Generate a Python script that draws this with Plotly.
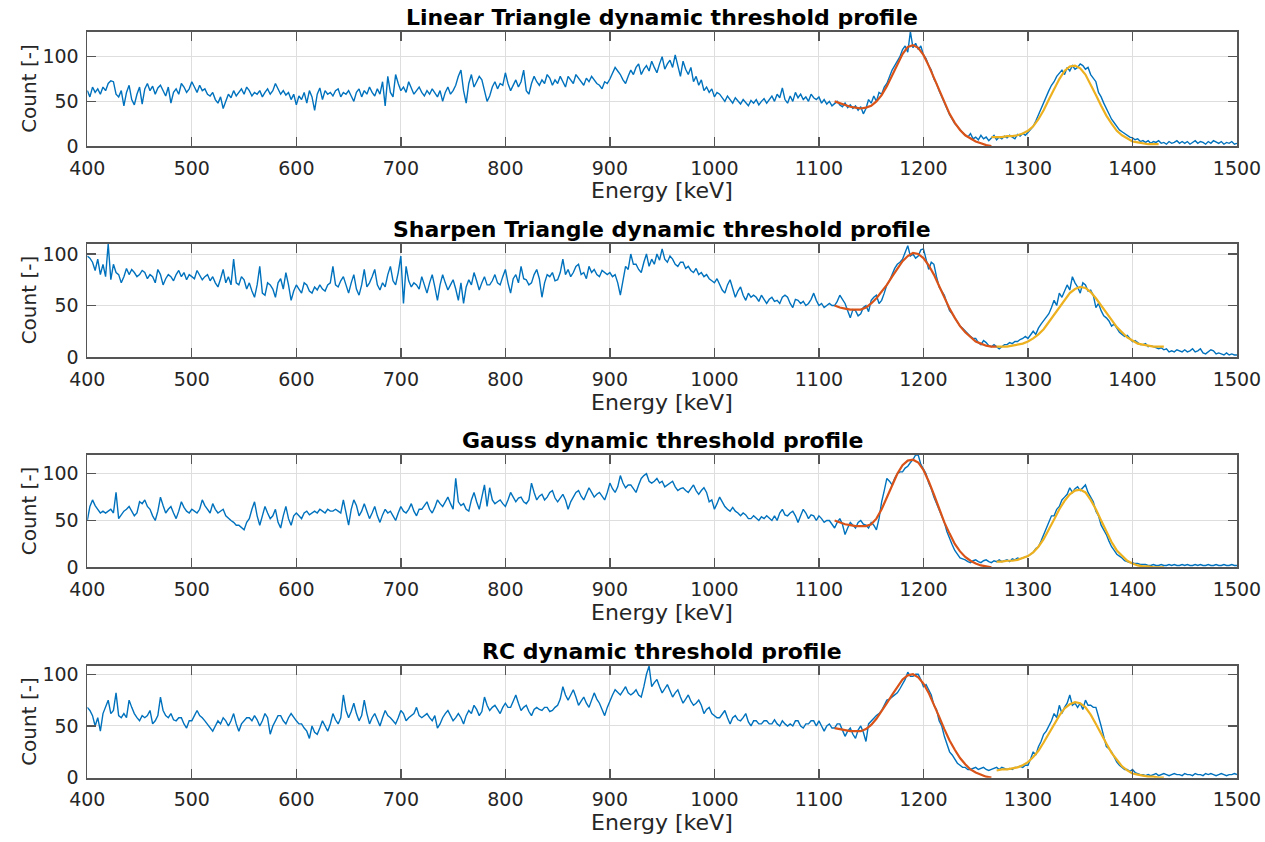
import plotly.graph_objects as go

# ---------------- data ----------------
titles = ["Linear Triangle dynamic threshold profile",
          "Sharpen Triangle dynamic threshold profile",
          "Gauss dynamic threshold profile",
          "RC dynamic threshold profile"]
x_label = "Energy [keV]"
y_label = "Count [-]"
x_ticks = [400, 500, 600, 700, 800, 900, 1000, 1100, 1200, 1300, 1400, 1500]
y_ticks = [0, 50, 100]
y_max = [128, 110, 120, 108]

# spectra: one row = 50 keV, 2.5 keV bins, row r starts at 400 + 50*r
row_width_kev = 50
bin_kev = 2.5
first_energy = 400

linear_rows = [
    [62, 55, 66, 60, 64, 58, 66, 62, 70, 73, 72, 58, 55, 62, 45, 60, 68, 52, 46, 58],
    [66, 47, 64, 70, 62, 67, 58, 65, 68, 62, 56, 66, 48, 60, 64, 58, 70, 66, 60, 64],
    [72, 66, 60, 68, 62, 64, 58, 56, 60, 52, 48, 55, 42, 50, 58, 54, 62, 56, 60, 64],
    [58, 66, 62, 56, 60, 58, 62, 55, 60, 64, 58, 62, 70, 64, 58, 62, 57, 60, 52, 58],
    [46, 56, 52, 60, 48, 62, 55, 40, 58, 65, 52, 62, 58, 60, 56, 62, 64, 55, 60, 58],
    [62, 56, 50, 60, 64, 55, 62, 58, 66, 60, 56, 64, 58, 72, 45, 78, 60, 55, 80, 70],
    [62, 66, 60, 72, 64, 58, 62, 66, 60, 56, 62, 58, 64, 60, 55, 62, 50, 60, 66, 58],
    [62, 68, 78, 85, 62, 48, 70, 80, 66, 72, 78, 74, 62, 50, 56, 66, 72, 64, 70, 68],
    [82, 70, 62, 68, 74, 66, 72, 85, 62, 58, 70, 78, 72, 68, 74, 70, 80, 76, 68, 74],
    [70, 78, 72, 66, 78, 74, 70, 80, 76, 72, 68, 76, 72, 78, 74, 70, 68, 64, 72, 70],
    [75, 82, 88, 84, 80, 74, 70, 78, 85, 80, 88, 92, 80, 86, 90, 84, 95, 88, 82, 92],
    [100, 86, 92, 96, 88, 102, 90, 78, 95, 86, 80, 88, 72, 78, 68, 74, 62, 66, 60, 64],
    [55, 60, 58, 54, 50, 56, 52, 48, 54, 50, 47, 52, 49, 45, 51, 48, 52, 46, 50, 53],
    [48, 52, 56, 50, 58, 54, 65, 52, 48, 56, 50, 60, 54, 58, 52, 55, 50, 58, 54, 52],
    [55, 48, 52, 47, 50, 45, 48, 50, 46, 44, 48, 43, 46, 42, 45, 40, 44, 36, 42, 52],
    [48, 56, 50, 60, 58, 66, 70, 78, 85, 90, 95, 100, 108, 112, 105, 128, 110, 115, 108, 112],
    [102, 98, 90, 85, 75, 70, 62, 55, 48, 40, 35, 30, 25, 22, 18, 15, 12, 10, 14, 8],
    [10, 7, 12, 8, 10, 6, 9, 12, 7, 10, 8, 11, 9, 12, 10, 8, 13, 11, 14, 12],
    [15, 18, 22, 28, 35, 42, 50, 55, 62, 68, 72, 78, 82, 85, 80, 88, 84, 90, 86, 88],
    [92, 90, 86, 88, 80, 76, 72, 60, 55, 48, 42, 35, 30, 26, 22, 18, 16, 14, 12, 10],
    [9, 7, 8, 5, 6, 4, 6, 3, 5, 4, 6, 3, 4, 2, 5, 3, 4, 6, 3, 5],
    [3, 5, 2, 4, 6, 3, 5, 4, 2, 5, 3, 6, 4, 3, 5, 2, 4, 3, 5, 2],
    [3],
]

sharpen_rows = [
    [98, 96, 92, 84, 95, 80, 90, 78, 110, 75, 90, 82, 80, 72, 78, 86, 80, 85, 82, 78],
    [80, 84, 82, 76, 80, 78, 72, 85, 80, 70, 76, 80, 78, 74, 80, 84, 78, 82, 75, 80],
    [78, 76, 84, 80, 75, 78, 80, 74, 78, 72, 68, 76, 85, 72, 78, 70, 95, 72, 70, 78],
    [75, 66, 72, 64, 58, 70, 88, 62, 60, 72, 70, 66, 58, 72, 76, 66, 82, 70, 55, 64],
    [70, 66, 62, 72, 70, 64, 62, 68, 65, 70, 66, 64, 70, 72, 88, 70, 68, 74, 78, 70],
    [62, 72, 80, 66, 60, 70, 85, 68, 72, 78, 85, 70, 65, 72, 68, 80, 88, 74, 70, 82],
    [98, 52, 88, 74, 68, 72, 70, 66, 78, 70, 62, 72, 80, 68, 55, 70, 80, 72, 65, 70],
    [75, 66, 55, 72, 52, 68, 75, 70, 82, 74, 65, 72, 78, 70, 70, 74, 80, 72, 70, 78],
    [85, 72, 62, 76, 80, 72, 88, 76, 75, 70, 72, 80, 85, 76, 58, 72, 80, 78, 82, 74],
    [75, 82, 95, 80, 85, 78, 82, 88, 90, 80, 82, 76, 88, 82, 85, 80, 78, 84, 82, 80],
    [82, 78, 80, 72, 60, 75, 88, 85, 100, 90, 90, 85, 82, 92, 100, 88, 95, 90, 100, 94],
    [105, 95, 92, 98, 95, 90, 88, 92, 92, 86, 88, 84, 82, 86, 80, 82, 78, 80, 76, 74],
    [72, 76, 70, 65, 62, 70, 75, 66, 58, 64, 68, 60, 55, 62, 58, 60, 58, 54, 60, 56],
    [52, 56, 58, 54, 55, 52, 58, 60, 58, 52, 48, 56, 55, 52, 54, 50, 52, 56, 62, 55],
    [50, 52, 48, 50, 52, 50, 50, 54, 60, 56, 52, 45, 38, 46, 45, 40, 42, 48, 50, 44],
    [55, 58, 60, 52, 55, 62, 70, 74, 80, 86, 90, 92, 95, 102, 108, 98, 100, 96, 98, 104],
    [105, 95, 85, 92, 90, 78, 68, 64, 60, 52, 45, 42, 38, 34, 30, 28, 25, 22, 20, 18],
    [18, 14, 12, 16, 14, 11, 10, 12, 10, 8, 10, 12, 12, 14, 13, 15, 15, 17, 18, 20],
    [18, 22, 25, 22, 28, 32, 35, 38, 42, 48, 55, 50, 62, 58, 65, 70, 65, 78, 72, 68],
    [62, 72, 70, 64, 65, 60, 48, 52, 45, 40, 38, 35, 30, 32, 28, 24, 22, 20, 21, 18],
    [15, 16, 14, 12, 12, 13, 10, 11, 10, 9, 8, 9, 7, 8, 5, 6, 5, 7, 6, 5],
    [7, 5, 6, 8, 5, 6, 8, 4, 3, 5, 7, 6, 3, 4, 3, 2, 4, 2, 3, 2],
    [2],
]

gauss_rows = [
    [50, 65, 72, 66, 62, 58, 60, 58, 60, 62, 58, 80, 52, 56, 60, 62, 65, 60, 55, 58],
    [70, 68, 72, 65, 62, 55, 50, 60, 75, 66, 58, 62, 65, 58, 52, 60, 70, 64, 60, 58],
    [62, 60, 58, 62, 72, 66, 62, 58, 68, 62, 58, 60, 62, 55, 52, 50, 48, 45, 45, 42],
    [40, 48, 52, 62, 70, 55, 45, 55, 65, 58, 52, 55, 62, 48, 42, 55, 65, 52, 45, 55],
    [58, 55, 52, 58, 60, 56, 58, 60, 58, 62, 60, 58, 62, 60, 60, 62, 60, 58, 72, 60],
    [45, 62, 72, 66, 55, 60, 68, 60, 52, 58, 65, 55, 48, 56, 62, 58, 60, 55, 50, 58],
    [65, 60, 58, 62, 68, 60, 55, 62, 62, 66, 70, 62, 58, 64, 72, 68, 65, 70, 75, 68],
    [62, 95, 70, 66, 68, 62, 60, 72, 80, 70, 62, 75, 88, 65, 85, 72, 68, 70, 72, 68],
    [65, 72, 80, 75, 70, 74, 75, 70, 68, 72, 90, 80, 72, 76, 78, 72, 75, 80, 82, 74],
    [70, 74, 78, 72, 62, 70, 75, 80, 82, 76, 72, 78, 85, 80, 75, 78, 80, 76, 72, 80],
    [90, 84, 80, 86, 98, 90, 85, 88, 88, 84, 80, 88, 95, 98, 100, 92, 90, 92, 95, 90],
    [92, 86, 88, 90, 92, 86, 82, 84, 85, 82, 80, 84, 88, 82, 78, 82, 85, 80, 70, 72],
    [62, 68, 75, 70, 65, 62, 60, 64, 60, 58, 55, 58, 56, 52, 52, 55, 52, 50, 54, 52],
    [55, 52, 50, 55, 50, 58, 62, 56, 55, 58, 60, 55, 48, 55, 62, 58, 52, 56, 55, 50],
    [55, 52, 48, 50, 50, 46, 42, 48, 52, 46, 35, 42, 48, 45, 42, 48, 50, 46, 45, 42],
    [48, 45, 40, 52, 70, 82, 95, 92, 88, 95, 100, 102, 102, 106, 108, 112, 115, 120, 120, 110],
    [105, 100, 90, 84, 75, 68, 60, 55, 48, 38, 30, 24, 18, 14, 10, 9, 8, 6, 5, 7],
    [8, 6, 5, 7, 8, 6, 5, 7, 6, 8, 6, 7, 8, 6, 9, 8, 10, 9, 10, 11],
    [12, 14, 16, 20, 22, 28, 35, 40, 48, 55, 55, 62, 65, 72, 75, 78, 85, 80, 84, 86],
    [82, 85, 88, 80, 75, 70, 60, 55, 45, 40, 35, 28, 22, 18, 14, 12, 10, 7, 6, 5],
    [5, 4, 4, 3, 3, 3, 2, 2, 3, 2, 2, 3, 2, 2, 3, 2, 3, 2, 2, 3],
    [2, 3, 2, 2, 3, 2, 3, 2, 2, 3, 2, 2, 3, 2, 2, 3, 2, 2, 3, 2],
    [2],
]

rc_rows = [
    [68, 65, 60, 50, 58, 45, 62, 68, 75, 62, 65, 82, 60, 58, 62, 58, 75, 68, 62, 58],
    [55, 60, 58, 60, 65, 52, 55, 60, 78, 65, 60, 58, 62, 56, 55, 58, 58, 52, 48, 55],
    [55, 60, 65, 60, 58, 55, 52, 48, 45, 50, 55, 52, 58, 55, 50, 55, 62, 52, 45, 52],
    [55, 58, 58, 55, 60, 56, 50, 55, 62, 58, 42, 50, 55, 60, 60, 55, 52, 58, 62, 58],
    [55, 52, 52, 48, 45, 38, 50, 44, 42, 48, 55, 50, 45, 52, 62, 56, 52, 58, 80, 65],
    [58, 64, 72, 62, 55, 60, 75, 62, 52, 58, 62, 56, 50, 58, 65, 60, 58, 55, 52, 58],
    [65, 62, 55, 58, 60, 62, 68, 60, 58, 60, 62, 58, 55, 60, 48, 52, 58, 62, 65, 60],
    [55, 58, 62, 58, 52, 60, 65, 62, 70, 66, 60, 64, 78, 70, 65, 68, 70, 66, 62, 68],
    [72, 68, 68, 74, 80, 72, 65, 68, 70, 64, 60, 66, 68, 66, 65, 68, 68, 64, 65, 68],
    [70, 76, 88, 80, 75, 80, 85, 78, 70, 74, 78, 72, 68, 75, 82, 76, 72, 66, 60, 68],
    [75, 80, 85, 82, 80, 84, 88, 82, 80, 82, 85, 80, 78, 88, 100, 108, 88, 92, 95, 88],
    [82, 86, 90, 84, 78, 82, 85, 78, 72, 76, 80, 74, 70, 72, 75, 70, 62, 66, 68, 62],
    [60, 58, 58, 62, 65, 58, 52, 58, 60, 56, 55, 58, 62, 54, 50, 55, 55, 52, 52, 55],
    [55, 52, 52, 56, 52, 50, 55, 52, 50, 52, 50, 55, 55, 50, 48, 52, 52, 55, 55, 50],
    [55, 50, 45, 50, 52, 48, 48, 52, 52, 46, 40, 45, 48, 42, 38, 46, 50, 44, 35, 52],
    [55, 58, 60, 62, 65, 70, 75, 76, 78, 80, 82, 86, 90, 95, 102, 98, 98, 100, 100, 95],
    [88, 90, 85, 80, 70, 66, 55, 50, 40, 32, 25, 22, 18, 14, 12, 10, 10, 8, 8, 9],
    [10, 8, 9, 10, 8, 7, 8, 9, 10, 8, 10, 9, 8, 9, 8, 10, 10, 11, 10, 12],
    [12, 18, 25, 22, 30, 35, 42, 45, 50, 55, 62, 58, 70, 62, 68, 72, 80, 70, 72, 68],
    [72, 66, 75, 70, 70, 68, 68, 60, 50, 40, 30, 28, 25, 20, 15, 12, 10, 8, 8, 6],
    [8, 5, 4, 3, 3, 2, 3, 2, 3, 4, 2, 3, 4, 3, 2, 3, 4, 3, 3, 2],
    [4, 3, 3, 2, 4, 3, 3, 2, 4, 3, 4, 3, 2, 3, 4, 3, 2, 3, 3, 4],
    [3],
]

# fitted peaks (5 keV step)
fit_step_kev = 5
fit1_start = [1115, 1115, 1115, 1115]
fit1_values = [
    [50, 48, 46, 44, 43, 42, 43, 45, 50, 57, 67, 79, 92, 103, 111, 113, 110, 102, 90, 76,
     62, 48, 36, 26, 18, 12, 8, 5, 3, 1, 0],
    [50, 48, 47, 46, 46, 46, 48, 52, 57, 63, 70, 78, 86, 93, 98, 101, 100, 96, 89, 80,
     69, 58, 47, 38, 30, 24, 19, 15, 13, 11, 10, 10],
    [50, 48, 46, 45, 44, 44, 44, 46, 52, 62, 75, 88, 100, 109, 114, 115, 112, 104, 92, 78,
     63, 48, 36, 25, 17, 11, 7, 4, 2, 1, 0],
    [48, 47, 46, 45, 45, 45, 47, 51, 57, 64, 72, 80, 88, 95, 99, 100, 97, 91, 82, 71,
     59, 47, 36, 27, 19, 13, 8, 5, 3, 1, 0],
]
fit2_start = [1265, 1270, 1270, 1270]
fit2_values = [
    [10, 10, 10, 11, 11, 12, 14, 17, 22, 30, 40, 52, 64, 75, 84, 89, 90, 87, 80, 69,
     57, 45, 34, 25, 17, 12, 8, 5, 4, 3, 2, 2, 2],
    [10, 10, 10, 11, 12, 13, 15, 18, 22, 27, 34, 41, 49, 56, 62, 66, 68, 67, 63, 57,
     50, 43, 36, 29, 24, 19, 16, 13, 12, 11, 10, 10, 10],
    [6, 6, 7, 7, 8, 10, 12, 16, 22, 30, 40, 51, 62, 71, 78, 82, 83, 80, 72, 62,
     50, 38, 27, 18, 12, 7, 4, 2, 1, 1, 0, 0, 0],
    [7, 8, 8, 9, 10, 12, 15, 20, 26, 34, 43, 52, 60, 67, 71, 73, 72, 68, 61, 52,
     42, 33, 24, 17, 11, 7, 4, 3, 2, 1, 1, 0, 0],
]

spectra = [linear_rows, sharpen_rows, gauss_rows, rc_rows]

# ---------------- layout geometry (pixels) ----------------
W, H = 1265, 842
ax_left, ax_right = 87.3, 1237
panel_tops = [31.7, 243.7, 455, 666]
panel_bottoms = [146, 357, 567.3, 777.7]
ylab_x = 29

FONT = "DejaVu Sans"
TXT = "#262626"
AXC = "#555555"
BLUE, RED, YELLOW = "#0072BD", "#D95319", "#EDB120"


def py(p):
    return 1 - p / H


fig = go.Figure()
annotations = []
xdom = [ax_left / W, ax_right / W]
xc = (xdom[0] + xdom[1]) / 2

for i in range(4):
    xa = "x" if i == 0 else f"x{i+1}"
    ya = "y" if i == 0 else f"y{i+1}"
    xs, ys = [], []
    for r, row in enumerate(spectra[i]):
        for j, v in enumerate(row):
            xs.append(first_energy + row_width_kev * r + bin_kev * j)
            ys.append(v)
    fig.add_trace(go.Scatter(x=xs, y=ys, mode="lines", line=dict(color=BLUE, width=1.4),
                             xaxis=xa, yaxis=ya, showlegend=False, hoverinfo="skip"))
    fx = [fit1_start[i] + fit_step_kev * k for k in range(len(fit1_values[i]))]
    fig.add_trace(go.Scatter(x=fx, y=fit1_values[i], mode="lines", line=dict(color=RED, width=2.2),
                             xaxis=xa, yaxis=ya, showlegend=False, hoverinfo="skip"))
    fx2 = [fit2_start[i] + fit_step_kev * k for k in range(len(fit2_values[i]))]
    fig.add_trace(go.Scatter(x=fx2, y=fit2_values[i], mode="lines", line=dict(color=YELLOW, width=2.2),
                             xaxis=xa, yaxis=ya, showlegend=False, hoverinfo="skip"))

    ydom = [py(panel_bottoms[i]), py(panel_tops[i])]
    common = dict(showline=True, linecolor=AXC, linewidth=1.8, mirror="allticks",
                  ticks="inside", ticklen=9, tickwidth=1.3, tickcolor=AXC,
                  showgrid=True, gridcolor="#dedede", gridwidth=1, zeroline=False,
                  tickfont=dict(family=FONT, size=19, color=TXT), automargin=False)
    fig.update_layout(**{
        ("xaxis" if i == 0 else f"xaxis{i+1}"): dict(
            domain=xdom, anchor=ya, range=[400, 1500], tickvals=x_ticks,
            ticklabelstandoff=4, **common),
        ("yaxis" if i == 0 else f"yaxis{i+1}"): dict(
            domain=ydom, anchor=xa, range=[0, y_max[i]], tickvals=y_ticks,
            ticklabelstandoff=3, **common),
    })
    annotations.append(dict(text=f"<b>{titles[i]}</b>", x=xc, y=py(panel_tops[i]),
                            xref="paper", yref="paper", xanchor="center", yanchor="bottom",
                            yshift=0, showarrow=False,
                            font=dict(family=FONT, size=22, color="#000000")))
    annotations.append(dict(text=x_label, x=xc, y=py(panel_bottoms[i] + 45),
                            xref="paper", yref="paper", xanchor="center", yanchor="middle",
                            showarrow=False, font=dict(family=FONT, size=22, color=TXT)))
    annotations.append(dict(text=y_label, x=ylab_x / W,
                            y=(py(panel_bottoms[i]) + py(panel_tops[i])) / 2,
                            xref="paper", yref="paper", xanchor="center", yanchor="middle",
                            textangle=-90, showarrow=False,
                            font=dict(family=FONT, size=20, color=TXT)))

fig.update_layout(width=W, height=H, margin=dict(l=0, r=0, t=0, b=0),
                  paper_bgcolor="white", plot_bgcolor="white",
                  annotations=annotations, showlegend=False, template="none",
                  hovermode=False)

# remove the default 8 px page margin so the figure fills the 1265x842 window exactly
fig.write_html("out.html",
               config={"displayModeBar": False, "staticPlot": True},
               post_script="document.body.style.margin='0px';"
                           "document.body.style.overflow='hidden';")
